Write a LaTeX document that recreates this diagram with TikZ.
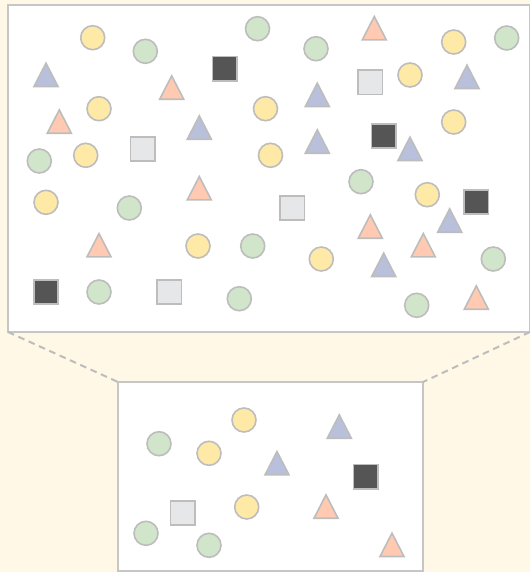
\documentclass[tikz,border=0pt]{standalone}
\usepackage{tikz}
\usetikzlibrary{shapes.geometric,positioning}

\definecolor{cream}{HTML}{FFF8E6}
\definecolor{rim}{HTML}{BDBDBD}
\definecolor{framegray}{HTML}{C6C6C6}
\definecolor{sunfill}{HTML}{FFE9A6}
\definecolor{leaffill}{HTML}{D0E5C9}
\definecolor{peachfill}{HTML}{FFCAB1}
\definecolor{slatefill}{HTML}{B8C0DB}
\definecolor{inkfill}{HTML}{555555}
\definecolor{mistfill}{HTML}{E6E7E9}

\begin{document}
\begin{tikzpicture}[x=0.75pt,y=-0.75pt,
   panel/.style={draw=framegray,line width=1.5pt,fill=white,inner sep=0pt,outer sep=0pt,anchor=north west},
   guide/.style={draw=rim,line width=1.5pt,dash pattern=on 5pt off 3.5pt},
   blob/.style={draw=rim,line width=1.2pt,inner sep=0pt},
   sun/.style={blob,circle,fill=sunfill,minimum size=18pt},
   leaf/.style={blob,circle,fill=leaffill,minimum size=18pt},
   ink/.style={blob,rectangle,fill=inkfill,minimum size=18.2pt},
   mist/.style={blob,rectangle,fill=mistfill,minimum size=18.2pt},
   tri/.style={blob,isosceles triangle,shape border rotate=90,isosceles triangle apex angle=55,
     isosceles triangle stretches,minimum width=18pt,minimum height=17.5pt,anchor=lower side},
   peach/.style={tri,fill=peachfill},
   slate/.style={tri,fill=slatefill}]

  \fill[cream] (0,0) rectangle (530,572);
  \useasboundingbox (0,0) rectangle (530,572);

  % panels
  \node[panel,minimum width=391.5pt,minimum height=245.25pt] (field) at (8,5) {};
  \node[panel,line width=0.8pt,minimum width=228.75pt,minimum height=141.75pt] (lens) at (118,382) {};
  \draw[guide] (field.south west) -- (lens.north west);
  \draw[guide] (field.south east) -- (lens.north east);

  % top panel
  \node[sun] (y1) at (92.7,37.7) {};
  \node[sun] (y2) at (99,108.7) {};
  \node[sun] (y3) at (85.7,155.3) {};
  \node[sun] (y4) at (265.5,108.7) {};
  \node[sun] (y5) at (270.5,155.3) {};
  \node[sun] (y6) at (453.7,42) {};
  \node[sun] (y7) at (410,75) {};
  \node[sun] (y8) at (453.7,122) {};
  \node[sun] (y9) at (46,202.3) {};
  \node[sun] (y10) at (198,246) {};
  \node[sun] (y11) at (427.3,194.7) {};
  \node[sun] (y12) at (321.3,259) {};

  \node[leaf] (g1) at (145.3,51.3) {};
  \node[leaf] (g2) at (257.5,28.7) {};
  \node[leaf] (g3) at (39.3,161) {};
  \node[leaf] (g4) at (316,48.7) {};
  \node[leaf] (g5) at (506.7,38) {};
  \node[leaf] (g6) at (129.3,208) {};
  \node[leaf] (g7) at (252.7,246) {};
  \node[leaf] (g8) at (99,292) {};
  \node[leaf] (g9) at (239.3,298.7) {};
  \node[leaf] (g10) at (361,181.7) {};
  \node[leaf] (g11) at (493.3,259) {};
  \node[leaf] (g12) at (416.7,305.3) {};

  \node[peach] (p1) at (171.7,100) {};
  \node[peach] (p2) at (59.3,134) {};
  \node[peach] (p3) at (374.3,40.7) {};
  \node[peach] (p4) at (199.3,200.7) {};
  \node[peach] (p5) at (99,257.7) {};
  \node[peach] (p6) at (370.3,239) {};
  \node[peach] (p7) at (423.3,257.7) {};
  \node[peach] (p8) at (476.3,310) {};

  \node[slate] (b1) at (46,87.3) {};
  \node[slate] (b2) at (199.3,140) {};
  \node[slate] (b3) at (467,89.3) {};
  \node[slate] (b4) at (317.3,107.3) {};
  \node[slate] (b5) at (317.3,154) {};
  \node[slate] (b6) at (410,161.3) {};
  \node[slate] (b7) at (449.7,233) {};
  \node[slate] (b8) at (383.7,277.3) {};

  \node[ink] (d1) at (224.7,68.7) {};
  \node[ink] (d2) at (383.7,136) {};
  \node[ink] (d3) at (476.3,202) {};
  \node[ink] (d4) at (46,292) {};

  \node[mist] (m1) at (142.7,149) {};
  \node[mist] (m2) at (370.3,82.3) {};
  \node[mist] (m3) at (292.3,208) {};
  \node[mist] (m4) at (169.3,292) {};

  % zoomed panel
  \node[sun] (zy1) at (244,420) {};
  \node[sun] (zy2) at (209,453.3) {};
  \node[sun] (zy3) at (246.7,507) {};
  \node[leaf] (zg1) at (159,443.7) {};
  \node[leaf] (zg2) at (146,533.3) {};
  \node[leaf] (zg3) at (209,545.3) {};
  \node[slate] (zb1) at (339.3,439) {};
  \node[slate] (zb2) at (277,475.7) {};
  \node[peach] (zp1) at (326,519) {};
  \node[peach] (zp2) at (392,557.3) {};
  \node[ink] (zd1) at (365.7,476.7) {};
  \node[mist] (zm1) at (182.7,513) {};
\end{tikzpicture}
\end{document}
